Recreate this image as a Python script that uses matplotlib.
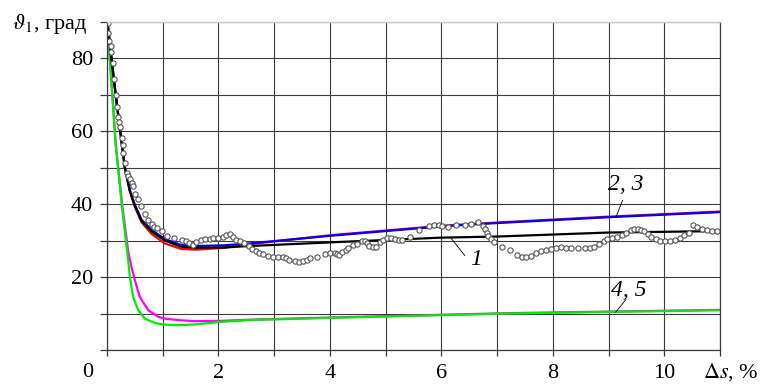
import numpy as np
import matplotlib.pyplot as plt

plt.rcParams['font.family'] = 'serif'
plt.rcParams['font.serif'] = ['Liberation Serif', 'DejaVu Serif']
plt.rcParams['mathtext.fontset'] = 'stix'

# кривая 1 (чёрная)
x1 = [0.01, 0.08, 0.155, 0.27, 0.32, 0.41, 0.5, 0.62, 0.8, 1.04, 1.33, 1.6, 2.1, 2.55, 4.0, 6.0, 7.0, 9.0, 11.0]
y1 = [89.5, 80, 70, 56, 50, 43.6, 39.5, 35.4, 32.5, 30.0, 28.3, 28.0, 28.1, 28.5, 29.5, 30.8, 31.1, 32.2, 32.6]

# кривые 2 (красная) и 3 (синяя)
x23 = [0.01, 0.08, 0.155, 0.27, 0.32, 0.41, 0.5, 0.62, 0.8, 1.04, 1.33, 1.6, 2.1, 2.55, 4.0, 6.0, 7.0, 9.0, 11.0]
y2 = [89.5, 80, 70, 56, 50, 43.4, 39.2, 35.0, 31.8, 29.2, 27.7, 27.5, 28.0, 29.0, 31.45, 34.05, 34.95, 36.55, 37.95]
y3 = [89.5, 80, 70, 56, 50, 43.8, 39.8, 35.7, 32.9, 30.4, 28.8, 28.5, 28.7, 29.2, 31.3, 33.9, 34.8, 36.4, 37.8]

# кривые 4 (пурпурная) и 5 (зелёная)
x4 = [0.0, 0.05, 0.155, 0.27, 0.38, 0.44, 0.5, 0.59, 0.74, 0.92, 1.04, 1.27, 1.57, 2.05, 2.55, 4.0, 7.2, 11.0]
y4 = [89.5, 80, 56.5, 40, 27, 22.7, 19.1, 14.5, 10.9, 9.1, 8.6, 8.2, 7.9, 8.0, 8.3, 8.9, 10.1, 11.0]
x5 = [0.0, 0.05, 0.155, 0.27, 0.38, 0.41, 0.47, 0.56, 0.68, 0.86, 1.0, 1.27, 1.57, 2.05, 2.55, 4.0, 7.2, 11.0]
y5 = [89.5, 80, 56.5, 39, 24.5, 20, 14.5, 10.9, 8.6, 7.4, 7.0, 6.8, 7.0, 7.7, 8.2, 8.8, 10.0, 10.9]

# эксперимент
xe = [0.01, 0.02, 0.04, 0.07, 0.08, 0.11, 0.13, 0.16, 0.18, 0.2, 0.22, 0.24, 0.26, 0.28,
      0.29, 0.33, 0.36, 0.38, 0.41, 0.44, 0.47, 0.51, 0.56, 0.61, 0.68, 0.74, 0.8, 0.85,
      0.9, 0.98, 1.07, 1.2, 1.35, 1.42, 1.48, 1.54, 1.6, 1.68, 1.76, 1.84, 1.9, 2.0,
      2.08, 2.14, 2.2, 2.26, 2.32, 2.38, 2.46, 2.54, 2.61, 2.67, 2.73, 2.79, 2.88, 2.97,
      3.06, 3.15, 3.21, 3.27, 3.38, 3.45, 3.51, 3.58, 3.65, 3.77, 3.91, 4.01, 4.09, 4.13,
      4.17, 4.22, 4.28, 4.33, 4.41, 4.49, 4.58, 4.63, 4.67, 4.71, 4.77, 4.83, 4.9, 4.96,
      5.02, 5.1, 5.17, 5.24, 5.3, 5.44, 5.59, 5.77, 5.86, 5.95, 6.01, 6.11, 6.27, 6.42,
      6.53, 6.65, 6.75, 6.78, 6.81, 6.84, 6.89, 6.95, 7.09, 7.23, 7.36, 7.45, 7.52, 7.61,
      7.7, 7.79, 7.88, 7.97, 8.06, 8.15, 8.24, 8.33, 8.45, 8.57, 8.66, 8.74, 8.83, 8.91,
      8.98, 9.07, 9.16, 9.25, 9.31, 9.4, 9.46, 9.52, 9.58, 9.64, 9.7, 9.77, 9.85, 9.93,
      10.02, 10.11, 10.2, 10.28, 10.35, 10.44, 10.52, 10.59, 10.68, 10.77, 10.86, 10.95]
ye = [89.5, 86.9, 84.7, 83.3, 81.7, 78.7, 74.3, 69.9, 66.6, 64.0, 62.4, 61.0, 58.0, 56.3,
      54.0, 51.3, 48.6, 47.7, 46.8, 45.9, 45.0, 42.7, 41.3, 39.5, 37.2, 35.6, 34.5, 33.8,
      33.4, 32.7, 31.3, 30.7, 30.2, 29.8, 29.2, 28.9, 29.5, 30.2, 30.4, 30.4, 30.6, 30.8,
      31.1, 31.5, 31.8, 30.9, 30.2, 29.8, 29.2, 28.6, 27.7, 27.1, 26.5, 26.2, 25.9, 25.6,
      25.4, 25.4, 25.3, 24.8, 24.3, 24.1, 24.3, 24.7, 25.2, 25.4, 26.2, 26.5, 26.5, 26.2,
      26.1, 26.8, 27.4, 27.9, 28.9, 29.1, 29.8, 30.0, 29.2, 28.6, 28.3, 28.3, 29.5, 30.2,
      30.7, 30.6, 30.4, 30.2, 30.2, 31.1, 32.9, 34.1, 34.2, 34.2, 34.1, 33.8, 34.3, 34.2,
      34.5, 35.0, 34.1, 33.2, 32.2, 31.3, 30.4, 29.5, 28.3, 27.4, 26.1, 25.6, 25.4, 25.9,
      26.5, 27.1, 27.4, 27.7, 28.0, 28.1, 28.0, 28.0, 28.0, 27.9, 27.9, 28.3, 29.1, 30.0,
      30.4, 30.7, 31.1, 31.6, 32.2, 33.0, 33.2, 33.2, 33.0, 32.5, 31.8, 31.1, 30.4, 30.0,
      29.8, 29.8, 30.2, 30.7, 31.6, 32.2, 34.3, 33.6, 33.2, 32.9, 32.7, 32.5]

fig = plt.figure(figsize=(7.65, 3.87), dpi=100)
ax = fig.add_axes([0.1399, 0.0956, 0.8013, 0.8484])

ax.set_xlim(0, 11)
ax.set_ylim(0, 90)

# сетка
ax.set_xticks(np.arange(0, 12, 1))
ax.set_yticks(np.arange(0, 100, 10))
ax.grid(True, color='#3c3c3c', linewidth=0.8)
ax.set_axisbelow(True)
for name in ['left', 'bottom', 'right']:
    ax.spines[name].set_color('#3c3c3c')
    ax.spines[name].set_linewidth(0.9)
ax.spines['top'].set_color('#c8c8c8')
ax.spines['top'].set_linewidth(1.0)

ax.set_xticklabels(['', '', '2', '', '4', '', '6', '', '8', '', '10', ''])
ax.set_yticklabels(['', '', '20', '', '40', '', '60', '', '80', ''])
ax.tick_params(axis='x', direction='out', length=4, width=0.9, color='#3c3c3c',
               pad=6, labelsize=16)
ax.tick_params(axis='y', direction='out', length=5, width=0.9, color='#3c3c3c',
               pad=5, labelsize=16)

# кривые
ax.plot(x4, y4, color='#ff00ff', linewidth=1.6)
ax.plot(x5, y5, color='#00ee00', linewidth=1.6)
ax.plot(x23, y2, color='#ff0000', linewidth=1.6)
ax.plot(x23, y3, color='#0000ff', linewidth=1.6)
ax.plot(x1, y1, color='black', linewidth=1.6)
ax.plot(xe, ye, linestyle='none', marker='o', markersize=3.8, markerfacecolor='white',
        markeredgecolor='#555555', markeredgewidth=0.8)

# подписи кривых
ax.plot([6.17, 6.42], [30.7, 25.9], color='black', linewidth=0.6)
ax.text(6.62, 24.8, '1', fontsize=17, style='italic', ha='center', va='center')
ax.plot([9.25, 9.13], [41.0, 36.3], color='black', linewidth=0.6)
ax.text(9.3, 45.5, '2, 3', fontsize=17, style='italic', ha='center', va='center')
ax.plot([9.31, 9.13], [13.8, 10.4], color='black', linewidth=0.6)
ax.text(9.37, 16.3, '4, 5', fontsize=17, style='italic', ha='center', va='center')

# подписи осей
ax.annotate('0', xy=(0, 0), xycoords='data', xytext=(-14, -16),
            textcoords='offset points', ha='center', va='center', fontsize=16)
ax.annotate(r'$\Delta$$\mathit{s}$, %', xy=(1, 0), xycoords='axes fraction',
            xytext=(-12, -16), textcoords='offset points', ha='left', va='center',
            fontsize=16)
fig.text(12 / 765, 1 - 24 / 387, r'$\vartheta_1$, град', ha='left', va='center',
         fontsize=16)

fig.savefig('out.png', dpi=100)
